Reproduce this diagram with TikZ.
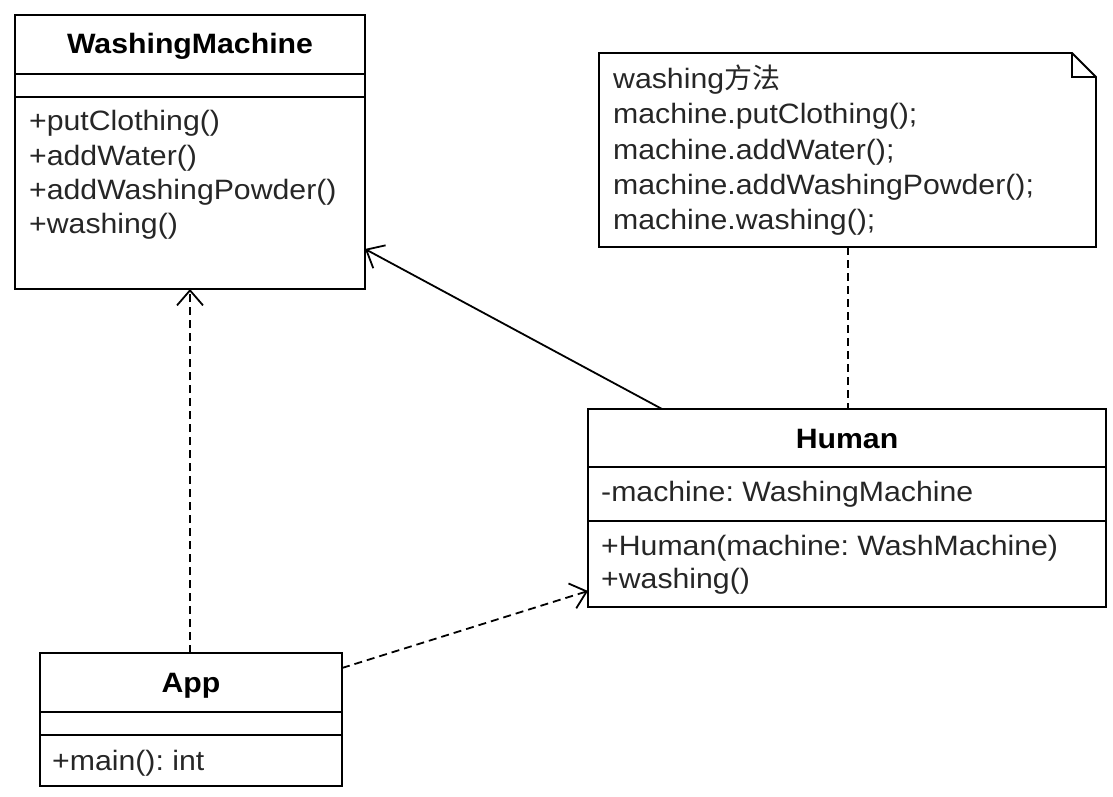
\documentclass[tikz,border=0pt]{standalone}
\usepackage{fontspec}
\setmainfont{Liberation Sans}[FakeStretch=1.08]
\newfontfamily\cjk{Noto Sans CJK SC}
\usetikzlibrary{arrows.meta}
\frenchspacing
\tikzset{
  box/.style={draw=black, line width=1.8pt, anchor=north west, inner sep=0pt, outer sep=0pt},
  sep/.style={draw=black, line width=1.8pt},
  txt/.style={anchor=base west, inner sep=0pt, font=\fontsize{28}{34}\selectfont\frenchspacing, text=black!85},
  ttl/.style={anchor=base, inner sep=0pt, font=\fontsize{28}{34}\selectfont\bfseries, text=black},
  opentip/.style={-{Straight Barb[length=15pt,width=26pt,line width=1.8pt]}},
  assoc/.style={draw=black, line width=1.8pt, opentip},
  dep/.style={draw=black, line width=1.8pt, dash pattern=on 8pt off 5pt, opentip},
  notelink/.style={draw=black, line width=1.8pt, dash pattern=on 8pt off 5pt},
}
\begin{document}
\begin{tikzpicture}[x=1pt,y=-1pt]
\useasboundingbox (0,0) rectangle (1113,797);
% WashingMachine
\node[box, minimum width=350pt, minimum height=274pt] (wm) at (15,15) {};
\draw[sep] (15,74) -- (365,74);
\draw[sep] (15,97) -- (365,97);
\node[ttl] (wmt) at (190,54) {WashingMachine};
\node[txt] (wm1) at (29,131) {+putClothing()};
\node[txt] (wm2) at (29,165) {+addWater()};
\node[txt] (wm3) at (29,199) {+addWashingPowder()};
\node[txt] (wm4) at (29,233) {+washing()};
% Note
\draw[line width=1.8pt] (599,53) -- (1072,53) -- (1096,77) -- (1096,247) -- (599,247) -- cycle;
\draw[line width=1.8pt] (1072,53) -- (1072,77) -- (1096,77);
\coordinate (nb) at (848,247);
\node[txt] (n1) at (613,89) {washing{\cjk 方法}};
\node[txt] (n2) at (613,124) {machine.putClothing();};
\node[txt] (n3) at (613,159) {machine.addWater();};
\node[txt] (n4) at (613,194) {machine.addWashingPowder();};
\node[txt] (n5) at (613,229) {machine.washing();};
% Human
\node[box, minimum width=518pt, minimum height=198pt] (hu) at (588,409) {};
\draw[sep] (588,467) -- (1106,467);
\draw[sep] (588,521) -- (1106,521);
\node[ttl] (hut) at (847,448) {Human};
\node[txt] (hu1) at (601,501) {-machine: WashingMachine};
\node[txt] (hu2) at (601,555) {+Human(machine: WashMachine)};
\node[txt] (hu3) at (601,588) {+washing()};
% App
\node[box, minimum width=302pt, minimum height=133pt] (app) at (40,653) {};
\draw[sep] (40,712) -- (342,712);
\draw[sep] (40,735) -- (342,735);
\node[ttl] (appt) at (191,692) {App};
\node[txt] (app1) at (52,770) {+main(): int};
% connector end points on borders
\coordinate (wmR) at (365,249);
\coordinate (wmB) at (190,289);
\coordinate (huT) at (662,409);
\coordinate (huTn) at (848,409);
\coordinate (huL) at (588,591);
\coordinate (appT) at (190,653);
\coordinate (appR) at (342,668);
% connectors
\draw[assoc] (huT) -- (wmR);
\draw[dep] (appT) -- (wmB);
\draw[dep] (appR) -- (huL);
\draw[notelink] (nb) -- (huTn);
\end{tikzpicture}
\end{document}
